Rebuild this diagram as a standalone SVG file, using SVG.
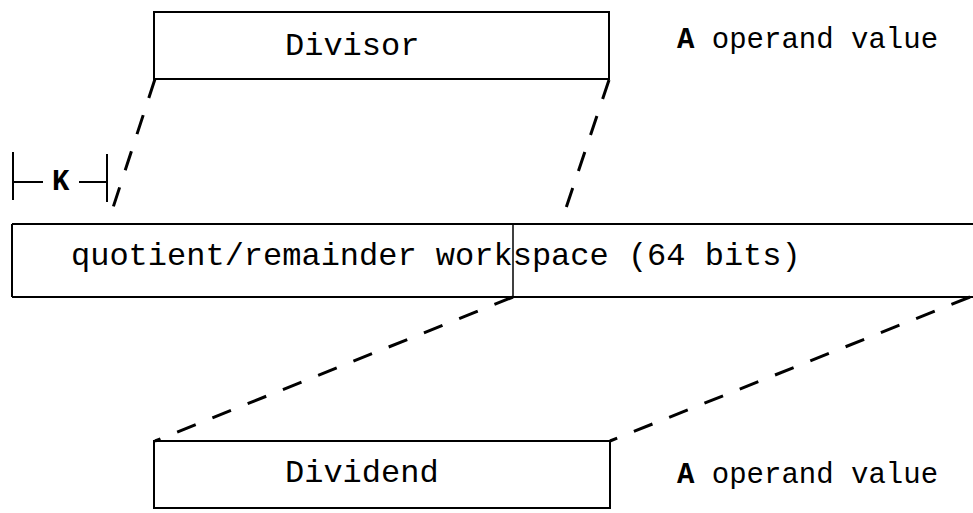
<svg xmlns="http://www.w3.org/2000/svg" width="973" height="513" viewBox="0 0 973 513">
<style>
.box{fill:none;stroke:#000;stroke-width:2}
.solid{stroke:#000;stroke-width:2;fill:none}
.dash{stroke:#000;stroke-width:3;fill:none;stroke-dasharray:20 18}
.t{font-family:"Liberation Mono","Courier New",monospace;font-size:32px;fill:#000}
.s{font-family:"Liberation Mono","Courier New",monospace;font-size:29px;fill:#000}
</style>
<rect width="973" height="513" fill="#fff"/>
<g id="divisor">
<rect class="box" x="154" y="12" width="455" height="67"/>
<text class="t" x="285" y="55">Divisor</text>
</g>
<g id="divisor-label">
<text class="s" x="677" y="48"><tspan font-weight="bold">A</tspan> operand value</text>
</g>
<g id="workspace">
<path class="solid" d="M12 224 H973 M12 297 H973 M12 224 V297"/>
<line x1="513" y1="224" x2="513" y2="297" stroke="#000" stroke-width="1.5"/>
<text class="t" x="71" y="265">quotient/remainder workspace (64 bits)</text>
</g>
<g id="dividend">
<rect class="box" x="154" y="441" width="456" height="67"/>
<text class="t" x="285" y="482">Dividend</text>
</g>
<g id="dividend-label">
<text class="s" x="677" y="483"><tspan font-weight="bold">A</tspan> operand value</text>
</g>
<g id="k-marker">
<path class="solid" d="M13 152 V200 M13 182 H43 M79 182 H107 M107 154 V202"/>
<text class="s" x="52" y="190" font-weight="bold" font-size="28">K</text>
</g>
<g id="connectors">
<line class="dash" x1="155" y1="79" x2="108" y2="223"/>
<line class="dash" x1="609" y1="80" x2="561" y2="223"/>
<line class="dash" x1="513" y1="297" x2="155" y2="441"/>
<line class="dash" x1="970" y1="297" x2="610" y2="441"/>
</g>
</svg>
